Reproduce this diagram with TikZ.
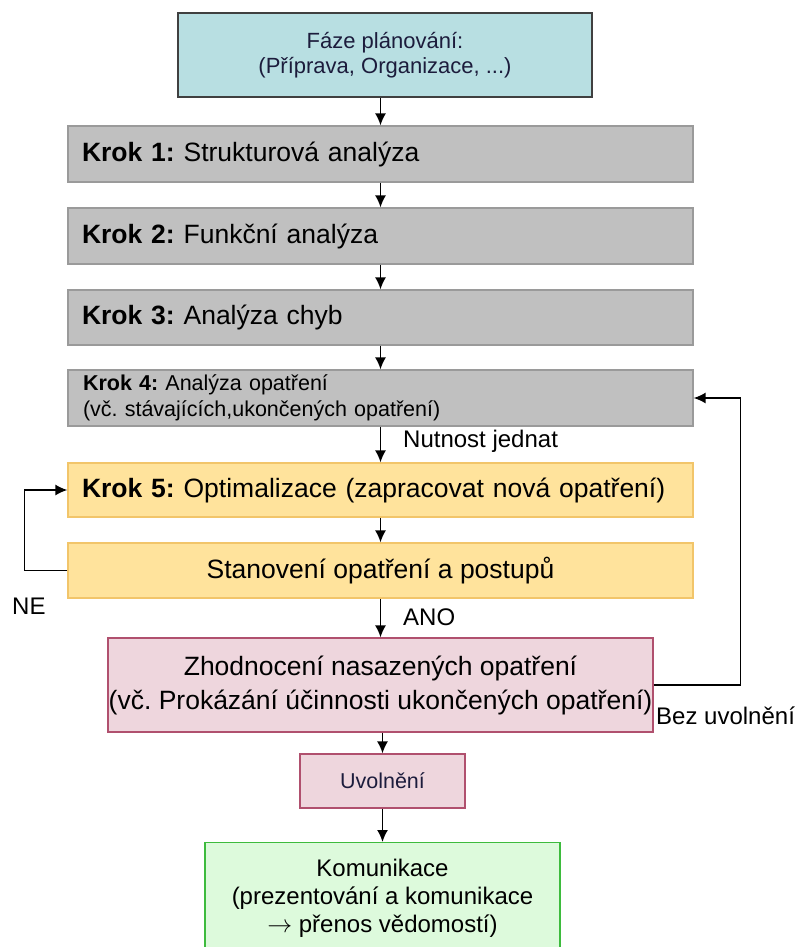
\documentclass[tikz,border=0pt]{standalone}
\usepackage{fontspec}
\setmainfont{Liberation Sans}
\usetikzlibrary{arrows.meta}
\definecolor{cyanfill}{HTML}{B8DFE2}
\definecolor{grayfill}{HTML}{C0C0C0}
\definecolor{grayline}{HTML}{9A9A9A}
\definecolor{yelfill}{HTML}{FFE39C}
\definecolor{yelline}{HTML}{F2C56A}
\definecolor{pinkfill}{HTML}{EED6DD}
\definecolor{pinkline}{HTML}{B0506E}
\definecolor{greenfill}{HTML}{DDFADC}
\definecolor{greenline}{HTML}{3DBB3D}
\definecolor{navytext}{HTML}{1C1C3C}
\tikzset{
  box/.style={draw, line width=1.2pt, inner sep=0pt, align=center},
  topbox/.style={box, fill=cyanfill, draw=black!75, text=navytext, minimum width=414pt, minimum height=84pt, font=\fontsize{22}{25}\selectfont},
  krokbox/.style={box, fill=grayfill, draw=grayline, minimum width=625pt, text width=597pt, align=left, font=\fontsize{26.5}{30}\selectfont},
  yelbox/.style={box, fill=yelfill, draw=yelline, minimum width=625pt, minimum height=55pt},
  pinkbox/.style={box, fill=pinkfill, draw=pinkline},
  greenbox/.style={box, fill=greenfill, draw=greenline, minimum width=355pt, minimum height=112pt, font=\fontsize{24}{28}\selectfont},
  arr/.style={-{Latex[length=12pt,width=11pt]}, line width=1.7pt, black},
  lbl/.style={anchor=west, inner sep=0pt, font=\fontsize{24}{28}\selectfont}
}
\begin{document}
\frenchspacing
\begin{tikzpicture}[x=1pt,y=-1pt]
\useasboundingbox (0,0) rectangle (795,947);
\clip (0,0) rectangle (795,947);
\node[topbox] (top) at (385,55) {Fáze plánování:\\(Příprava, Organizace, ...)};
\node[krokbox, minimum height=56pt] (k1) at (380.5,154) {\textbf{Krok 1:} Strukturová analýza};
\node[krokbox, minimum height=56pt] (k2) at (380.5,236) {\textbf{Krok 2:} Funkční analýza};
\node[krokbox, minimum height=55pt] (k3) at (380.5,317.5) {\textbf{Krok 3:} Analýza chyb};
\node[krokbox, minimum height=56pt, text width=595pt, font=\fontsize{21.5}{26}\selectfont] (k4) at (380.5,398) {\textbf{Krok 4:} Analýza opatření\\(vč. stávajících,ukončených opatření)};
\node[yelbox, minimum height=54pt, text width=597pt, align=left, font=\fontsize{26.5}{30}\selectfont] (k5) at (380.5,490) {\textbf{Krok 5:} Optimalizace (zapracovat nová opatření)};
\node[yelbox, font=\fontsize{26.5}{30}\selectfont] (st) at (380.5,570.5) {Stanovení opatření a postupů};
\node[pinkbox, minimum width=545pt, minimum height=94pt, font=\fontsize{26.5}{34}\selectfont] (zh) at (380.5,685) {Zhodnocení nasazených opatření\\(vč. Prokázání účinnosti ukončených opatření)};
\node[pinkbox, minimum width=165pt, minimum height=54pt, text=navytext, font=\fontsize{21.5}{25}\selectfont] (uv) at (382.5,781) {Uvolnění};
\node[greenbox, anchor=north] (ko) at (382.5,842) {Komunikace\\(prezentování a komunikace\\$\rightarrow$ přenos vědomostí)};
\draw[arr] (top.south -| k1.north) -- (k1.north);
\draw[arr] (k1) -- (k2);
\draw[arr] (k2) -- (k3);
\draw[arr] (k3) -- (k4);
\draw[arr] (k4) -- (k5);
\draw[arr] (k5) -- (st);
\draw[arr] (st) -- (zh);
\draw[arr] (zh.south -| uv.north) -- (uv);
\draw[arr] (uv) -- (uv.south |- ko.north);
\draw[arr] (zh.east) -- ++(87,0) |- (k4.east);
\draw[arr] (st.west) -- ++(-43,0) |- (k5.west);
\node[lbl] (nj) at (403,441) {Nutnost jednat};
\node[lbl] (ano) at (403,617) {ANO};
\node[lbl] (ne) at (12,606) {NE};
\node[lbl] (bez) at (656,716) {Bez uvolnění};
\end{tikzpicture}
\end{document}
